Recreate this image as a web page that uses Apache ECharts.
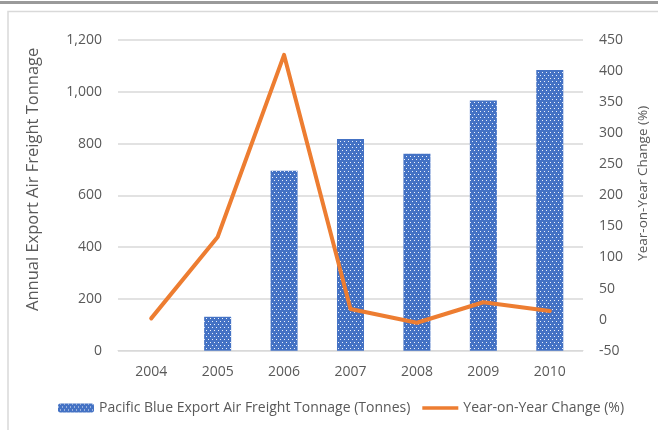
<!DOCTYPE html>
<html>
<head>
<meta charset="utf-8">
<script src="https://cdn.jsdelivr.net/npm/echarts@6/dist/echarts.min.js"></script>
<style>
html,body{margin:0;padding:0;background:#fff;}
#chart{width:658px;height:430px;}
</style>
</head>
<body>
<div id="chart"></div>
<script>
var years = ['2004','2005','2006','2007','2008','2009','2010'];
var tonnage = [0, 131, 695, 818, 761, 966, 1084];
var yoyChange = [2, 133, 426, 17, -5, 28, 14];
var barName = 'Pacific Blue Export Air Freight Tonnage (Tonnes)';
var lineName = 'Year-on-Year Change (%)';
var leftTitle = 'Annual Export Air Freight Tonnage';
var rightTitle = 'Year-on-Year Change (%)';

var FONT = 'Open Sans';
var TXT = '#595959';
var chart = echarts.init(document.getElementById('chart'), null, {renderer:'canvas'});
chart.setOption({
  animation: false,
  backgroundColor: '#ffffff',
  textStyle: {fontFamily: FONT},
  graphic: [
    {type:'rect', shape:{x:0,y:1,width:658,height:3}, style:{fill:'#9a9a9a'}, silent:true, z:-1},
    {type:'rect', shape:{x:8,y:11.5,width:700,height:500}, style:{fill:'none', stroke:'#d9d9d9', lineWidth:1.5}, silent:true, z:-1}
  ],
  grid: {left:118, right:71, top:40, bottom:79.3, containLabel:false},
  legend: {
    left: 53, top: 396,
    itemWidth: 36, itemHeight: 9, itemGap: 12,
    symbolKeepAspect: true,
    textStyle: {fontFamily: FONT, fontSize: 14, color: TXT},
    data: [
      {name: barName},
      {name: lineName, icon: 'path://M0 0H36V3.5H0Z'}
    ]
  },
  xAxis: {
    type: 'category',
    data: years,
    axisLine: {show:true, lineStyle:{color:'#d9d9d9', width:1}},
    axisTick: {show:false},
    axisLabel: {fontFamily: FONT, fontSize: 14, color: TXT, margin: 14}
  },
  yAxis: [
    {
      type:'value', min:0, max:1200, interval:200,
      name: leftTitle, nameLocation:'middle', nameRotate:90, nameGap:76,
      nameTextStyle:{fontFamily:FONT, fontSize:16.5, color:TXT, padding:[0,0,0,32]},
      axisLine:{show:false}, axisTick:{show:false},
      axisLabel:{fontFamily:FONT, fontSize:14, color:TXT, margin:16,
        formatter:function(v){return v.toLocaleString('en-US');}},
      splitLine:{show:true, lineStyle:{color:'#d9d9d9', width:1.5}}
    },
    {
      type:'value', min:-50, max:450, interval:50, position:'right',
      name: rightTitle, nameLocation:'middle', nameRotate:90, nameGap:53,
      nameTextStyle:{fontFamily:FONT, fontSize:13.5, color:TXT, padding:[0,0,0,24]},
      axisLine:{show:false}, axisTick:{show:false},
      axisLabel:{fontFamily:FONT, fontSize:14, color:TXT, margin:16},
      splitLine:{show:false}
    }
  ],
  series: [
    {
      name: barName, type:'bar', data: tonnage, yAxisIndex:0,
      barWidth: 27,
      itemStyle: {
        color:'#4472C4',
        decal: {symbol:'rect', symbolSize:1, color:'rgba(255,255,255,0.9)',
          dashArrayX:[[1,3],[0,2,1,1]], dashArrayY:[1,1.5], rotation:0}
      }
    },
    {
      name: lineName, type:'line', data: yoyChange, yAxisIndex:1,
      symbol:'none', showSymbol:false,
      lineStyle:{color:'#ED7D31', width:4, cap:'round', join:'round'},
      itemStyle:{color:'#ED7D31'},
      z: 5
    }
  ]
});
</script>
</body>
</html>
